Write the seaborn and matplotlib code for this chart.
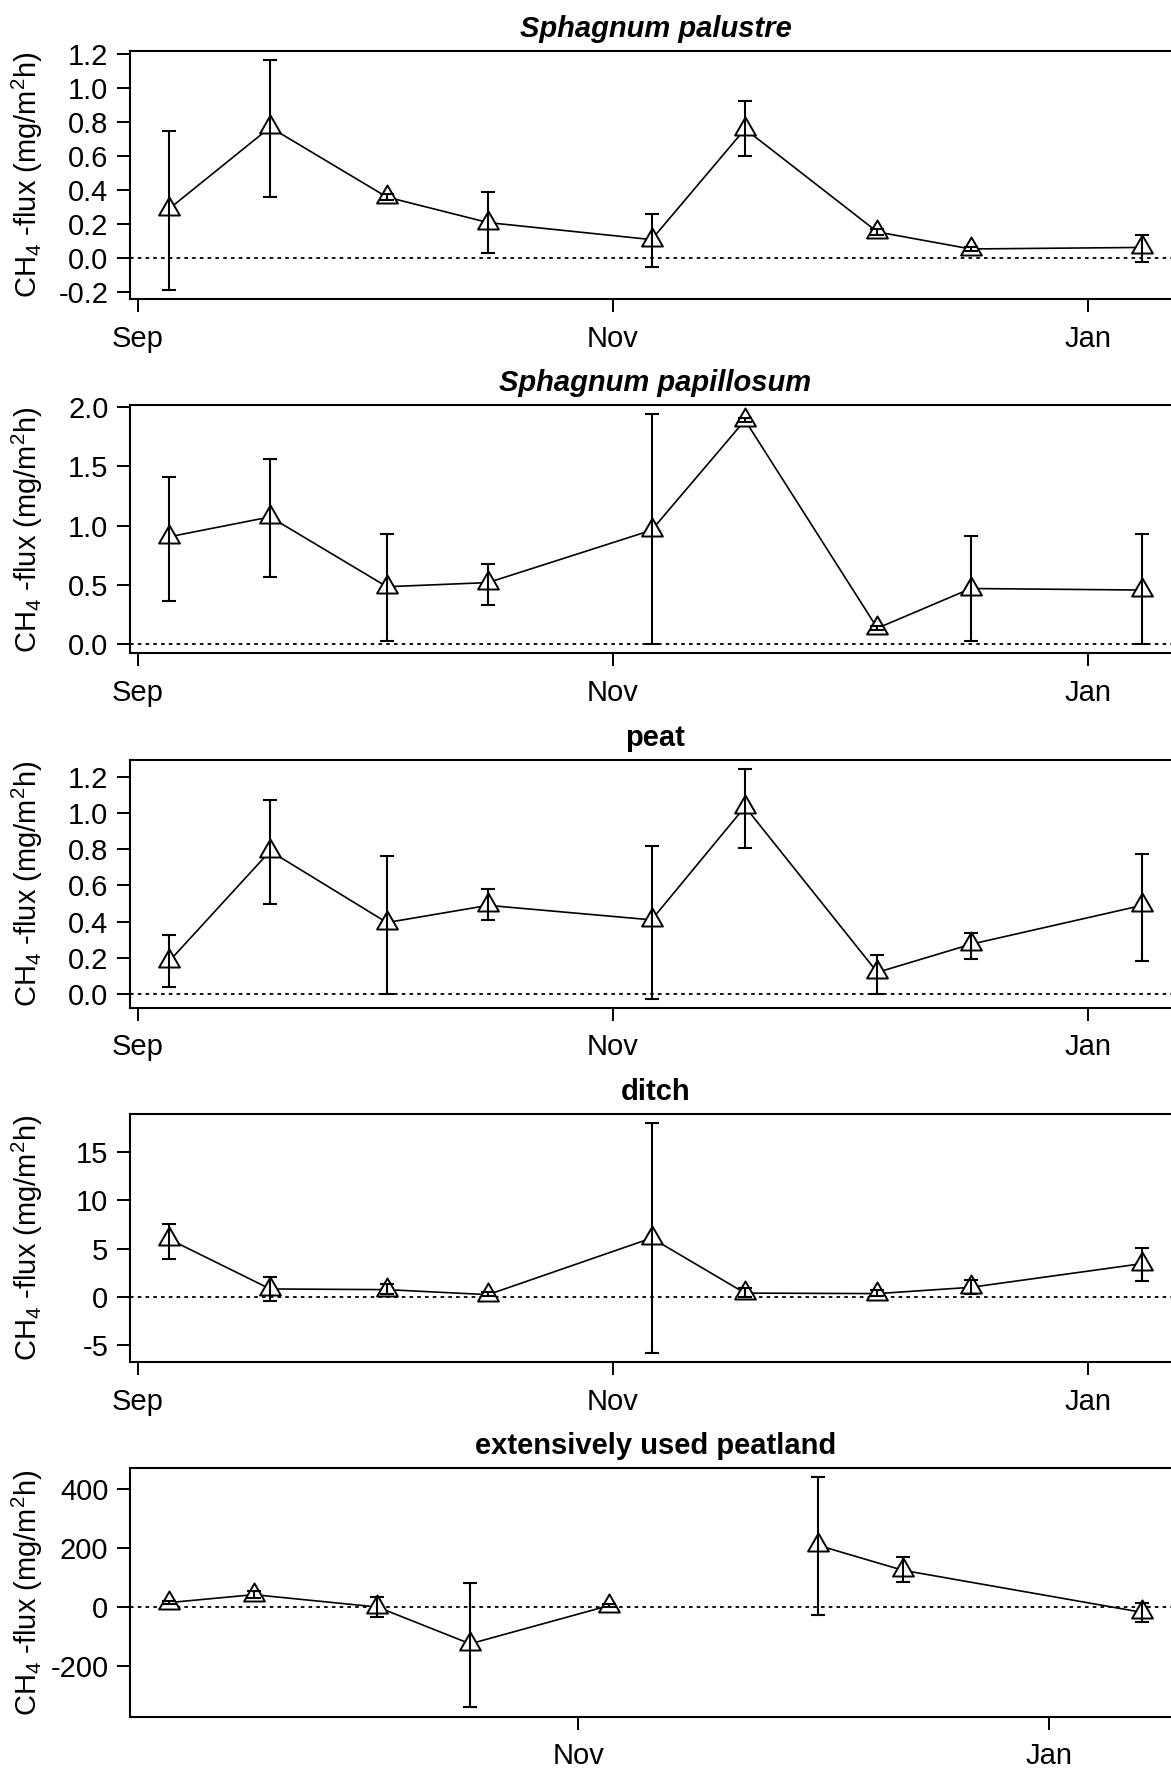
import numpy as np
import pandas as pd
import matplotlib.pyplot as plt
import matplotlib.dates as mdates
from matplotlib.path import Path
from matplotlib.markers import MarkerStyle
import seaborn as sns

sns.set_style("ticks")
plt.rcParams['font.family'] = ['Liberation Sans', 'DejaVu Sans']
plt.rcParams['mathtext.fontset'] = 'custom'
plt.rcParams['mathtext.rm'] = 'Liberation Sans'
plt.rcParams['mathtext.it'] = 'Liberation Sans:italic'
plt.rcParams['mathtext.bf'] = 'Liberation Sans:bold'
plt.rcParams['axes.unicode_minus'] = False
plt.rcParams['text.color'] = 'black'

# sampling dates
dates_main = ["2013-09-05", "2013-09-18", "2013-10-03", "2013-10-16", "2013-11-06",
              "2013-11-18", "2013-12-05", "2013-12-17", "2014-01-08"]
dates_ext = ["2013-09-09", "2013-09-20", "2013-10-06", "2013-10-18", "2013-11-05",
             "2013-11-18", "2013-12-02", "2013-12-13", "2014-01-13"]

# Sphagnum palustre
palustre_mean = [0.29, 0.77, 0.36, 0.21, 0.11, 0.76, 0.155, 0.055, 0.064]
palustre_low = [-0.185, 0.36, 0.34, 0.03, -0.05, 0.60, 0.135, 0.045, -0.023]
palustre_high = [0.75, 1.166, 0.38, 0.39, 0.262, 0.924, 0.175, 0.065, 0.136]

# Sphagnum papillosum
papillosum_mean = [0.906, 1.074, 0.485, 0.52, 0.962, 1.89, 0.135, 0.47, 0.457]
papillosum_low = [0.367, 0.564, 0.03, 0.33, 0.0, 1.875, 0.12, 0.03, 0.0]
papillosum_high = [1.41, 1.56, 0.93, 0.68, 1.94, 1.905, 0.15, 0.914, 0.93]

# peat
peat_mean = [0.18, 0.79, 0.395, 0.49, 0.41, 1.035, 0.12, 0.275, 0.49]
peat_low = [0.04, 0.50, 0.0, 0.41, -0.025, 0.805, 0.0, 0.195, 0.18]
peat_high = [0.325, 1.07, 0.76, 0.58, 0.82, 1.245, 0.215, 0.34, 0.775]

# ditch
ditch_mean = [6.0, 0.83, 0.76, 0.24, 6.1, 0.4, 0.35, 1.0, 3.45]
ditch_low = [3.94, -0.45, 0.35, 0.05, -5.8, 0.0, 0.1, 0.3, 1.62]
ditch_high = [7.57, 2.04, 1.3, 0.5, 18.0, 0.9, 0.7, 1.8, 5.08]

# extensively used peatland (one missing date)
ext_mean = [15, 42, 0, -125, 5, np.nan, 210, 125, -18]
ext_low = [10, 30, -34, -341, 0, np.nan, -26, 84, -52]
ext_high = [20, 55, 34, 82, 10, np.nan, 440, 170, 14]

titles = ["Sphagnum palustre", "Sphagnum papillosum",
          "peat", "ditch", "extensively used peatland"]
italic = [True, True, False, False, False]
yticks = [[-0.2, 0.0, 0.2, 0.4, 0.6, 0.8, 1.0, 1.2],
          [0.0, 0.5, 1.0, 1.5, 2.0],
          [0.0, 0.2, 0.4, 0.6, 0.8, 1.0, 1.2],
          [-5, 0, 5, 10, 15],
          [-200, 0, 200, 400]]
ytick_fmt = ["%.1f", "%.1f", "%.1f", "%d", "%d"]

panels = [
    (dates_main, palustre_mean, palustre_low, palustre_high),
    (dates_main, papillosum_mean, papillosum_low, papillosum_high),
    (dates_main, peat_mean, peat_low, peat_high),
    (dates_main, ditch_mean, ditch_low, ditch_high),
    (dates_ext, ext_mean, ext_low, ext_high),
]

# open equilateral triangle like R pch=2
tri = MarkerStyle(Path([(0, 1.1547), (1, -0.5774), (-1, -0.5774), (0, 1.1547)],
                       [Path.MOVETO, Path.LINETO, Path.LINETO, Path.CLOSEPOLY]))

W, H = 1171, 1772
fig = plt.figure(figsize=(W / 100, H / 100), dpi=100)
fs = 21

for k, (dts, mean, low, high) in enumerate(panels):
    top_px = 50.7 + 354.4 * k
    bot_px = 299.0 + 354.4 * k
    ax = fig.add_axes([130 / W, 1 - bot_px / H, 1051 / W, (bot_px - top_px) / H])

    df = pd.DataFrame({"date": pd.to_datetime(dts), "flux": mean,
                       "low": low, "high": high})
    df["seg"] = df["flux"].isna().cumsum()
    ok = df.dropna()

    ax.axhline(0, color="black", lw=1.3, ls=(0, (2, 2.3)), zorder=1)
    sns.lineplot(data=ok, x="date", y="flux", units="seg", estimator=None,
                 color="black", lw=1.2, sort=False, ax=ax, zorder=2, legend=False)
    sns.scatterplot(data=ok, x="date", y="flux", marker=tri, s=300,
                    color="white", edgecolor="black", linewidth=1.4,
                    ax=ax, zorder=3, legend=False)
    ax.errorbar(ok["date"], ok["flux"],
                yerr=[ok["flux"] - ok["low"], ok["high"] - ok["flux"]],
                fmt="none", ecolor="black", elinewidth=1.5, capsize=5,
                capthick=1.5, zorder=4)

    # R style 4% padding
    d0, d1 = ok["date"].min(), ok["date"].max()
    span = d1 - d0
    ax.set_xlim(d0 - 0.04 * span, d1 + 0.04 * span)
    lo, hi = ok["low"].min(), ok["high"].max()
    ax.set_ylim(lo - 0.04 * (hi - lo), hi + 0.04 * (hi - lo))

    ax.xaxis.set_major_locator(mdates.MonthLocator(bymonth=[1, 3, 5, 7, 9, 11]))
    ax.xaxis.set_major_formatter(mdates.DateFormatter("%b"))
    ax.set_yticks(yticks[k])
    ax.set_yticklabels([ytick_fmt[k] % v for v in yticks[k]])

    ax.tick_params(axis="both", direction="out", length=9.5, width=1.4,
                   labelsize=fs, color="black", labelcolor="black")
    ax.tick_params(axis="y", pad=6)
    ax.tick_params(axis="x", pad=9)
    for sp in ax.spines.values():
        sp.set_linewidth(1.5)
        sp.set_color("black")

    ax.set_xlabel("")
    ax.set_ylabel(r"CH$_4$ -flux (mg/m$^2$h)", fontsize=fs, color="black")
    ax.yaxis.label.set_va("center")
    ax.yaxis.set_label_coords((27 - 130) / 1051, 0.5)

    ax.set_title(titles[k], fontsize=fs, fontweight="bold", color="black",
                 fontstyle="italic" if italic[k] else "normal", pad=10)

fig.savefig("out.png", dpi=100, facecolor="white")
